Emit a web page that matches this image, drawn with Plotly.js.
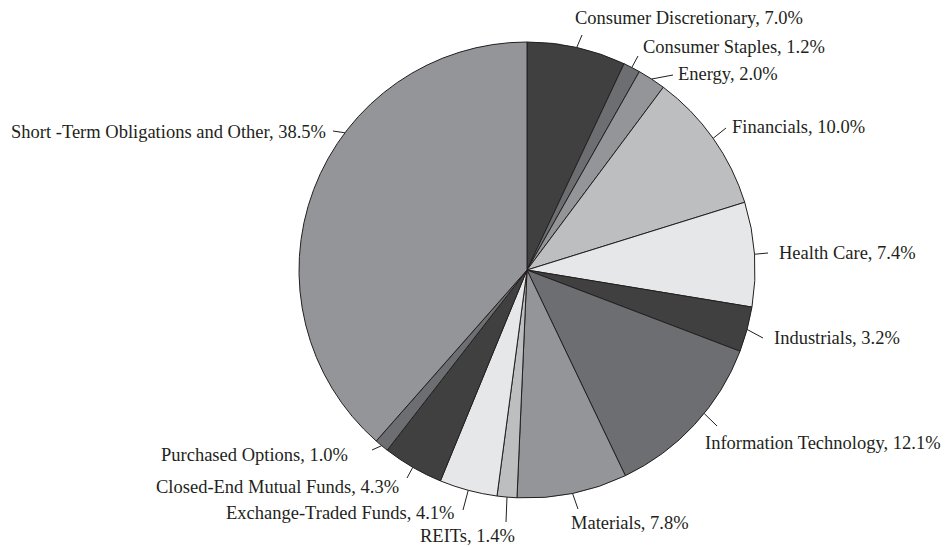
<!DOCTYPE html>
<html>
<head>
<meta charset="utf-8">
<script src="https://cdn.plot.ly/plotly-3.0.1.min.js"></script>
<style>html,body{margin:0;padding:0;background:#fff;}#chart{width:949px;height:547px;}</style>
</head>
<body>
<div id="chart"></div>
<script>
// ---- data ----
const sectors = [
  "Consumer Discretionary", "Consumer Staples", "Energy", "Financials",
  "Health Care", "Industrials", "Information Technology", "Materials",
  "REITs", "Exchange-Traded Funds", "Closed-End Mutual Funds",
  "Purchased Options", "Short -Term Obligations and Other"
];
const weights = [7.0, 1.2, 2.0, 10.0, 7.4, 3.2, 12.1, 7.8, 1.4, 4.1, 4.3, 1.0, 38.5];

// ---- styles ----
const palette = ["#404041", "#6d6e71", "#939598", "#bcbec0", "#e6e7e8"];
const sliceColors = sectors.map((_, i) => palette[i % 5]);

// ---- layout of pie & labels (pixels) ----
const W = 949, H = 547;
const cx = 527, cy = 270, R = 228;
// label text anchor [x, y, xanchor]
const labelPos = [
  [574, 18, "left"], [642, 47, "left"], [677, 74, "left"], [731, 127, "left"],
  [778, 253, "left"], [773, 338, "left"], [704, 443, "left"], [570, 523, "left"],
  [516, 536, "right"], [455, 513, "right"], [400, 487, "right"],
  [349, 455, "right"], [327, 132, "right"]
];
// leader line outer ends [x, y]
const lineEnd = [
  [582, 35], [638, 56], [673, 75], [726, 128], [768, 253], [763, 338],
  [717, 426], [578, 509], [506, 522], [463, 510], [407, 478], [372, 450], [333, 131]
];
const angleOverride = [null, null, null, null, null, null, 129, null, null, null, null, null, 307];

const px = x => x / W;
const py = y => 1 - y / H;

const total = weights.reduce((a, b) => a + b, 0);
let cum = 0;
const shapes = [], annotations = [];
weights.forEach((v, i) => {
  let mid = (cum + v / 2) / total * 360;
  cum += v;
  if (angleOverride[i] !== null) mid = angleOverride[i];
  const a = mid * Math.PI / 180;
  const sx = cx + R * Math.sin(a), sy = cy - R * Math.cos(a);
  shapes.push({type: "line", xref: "paper", yref: "paper",
    x0: px(sx), y0: py(sy), x1: px(lineEnd[i][0]), y1: py(lineEnd[i][1]),
    line: {color: "#231f20", width: 1}});
  annotations.push({xref: "paper", yref: "paper", x: px(labelPos[i][0]), y: py(labelPos[i][1]),
    xanchor: labelPos[i][2], yanchor: "middle", showarrow: false, borderpad: 0,
    text: sectors[i] + ", " + v.toFixed(1) + "%",
    font: {family: "Liberation Serif, Times New Roman, serif", size: 18.5, color: "#231f20"}});
});

const trace = {
  type: "pie", labels: sectors, values: weights, sort: false, direction: "clockwise",
  rotation: 0, textinfo: "none", hoverinfo: "label+percent",
  marker: {colors: sliceColors, line: {color: "#231f20", width: 1}},
  domain: {x: [px(cx - R), px(cx + R)], y: [py(cy + R), py(cy - R)]},
  showlegend: false
};

const layout = {
  width: W, height: H, margin: {l: 0, r: 0, t: 0, b: 0},
  paper_bgcolor: "#ffffff", plot_bgcolor: "#ffffff",
  showlegend: false, shapes: shapes, annotations: annotations
};
Plotly.newPlot("chart", [trace], layout, {displayModeBar: false, staticPlot: true});
</script>
</body>
</html>
